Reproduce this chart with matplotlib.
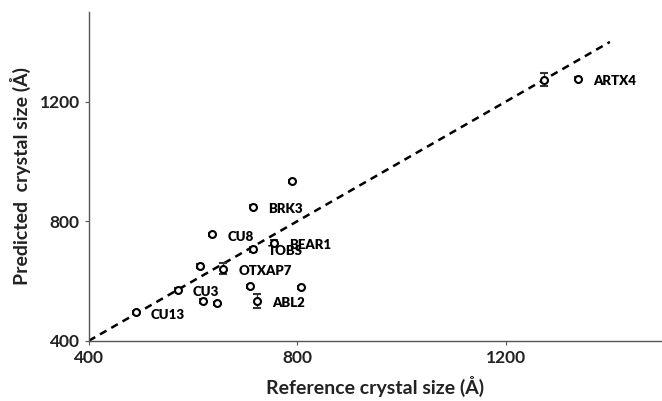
import matplotlib
matplotlib.use("Agg")
import matplotlib.pyplot as plt

# data
ref_size = [1338, 1274, 791, 715, 637, 755, 715, 613, 658, 709, 807, 571, 619, 647, 722, 490]
pred_size = [1276, 1274, 934, 849, 756, 729, 706, 651, 642, 583, 579, 571, 533, 526, 533, 495]
pred_err = [5, 22, 5, 5, 5, 8, 8, 6, 18, 5, 5, 5, 6, 5, 24, 5]
labels = ["ARTX4", "", "", "BRK3", "CU8", "BEAR1", "TOBS", "", "OTXAP7", "", "", "CU3", "", "", "ABL2", "CU13"]
line_x = [400, 1400]
line_y = [400, 1400]

plt.rcParams['font.family'] = ['Lato', 'DejaVu Sans']
fig = plt.figure(figsize=(6.62, 4.01), dpi=100)
ax = fig.add_axes([0.134, 0.150, 0.866, 0.820])

ax.plot(line_x, line_y, ls=(0, (3, 2.2)), color='black', lw=1.8, zorder=1)
ax.errorbar(ref_size, pred_size, yerr=pred_err, fmt='o', ms=5, mfc='white', mec='black',
            mew=1.5, ecolor='#333333', elinewidth=0.9, capsize=3, capthick=0.9, zorder=3)

for x, y, t in zip(ref_size, pred_size, labels):
    if t:
        ax.annotate(t, (x, y), xytext=(11, -1.5), textcoords='offset points', fontsize=9.5,
                    fontweight='heavy', va='center', ha='left', color='black')

ax.set_xlim(400, 1500)
ax.set_ylim(400, 1500)
ax.set_xticks([400, 800, 1200])
ax.set_yticks([400, 800, 1200])
ax.spines['top'].set_visible(False)
ax.spines['right'].set_visible(False)
for s in ['left', 'bottom']:
    ax.spines[s].set_color('#555555')
    ax.spines[s].set_linewidth(1.0)
ax.tick_params(axis='both', labelsize=12.5, length=3, color='#555555', labelcolor='#222222')
for lab in ax.get_xticklabels() + ax.get_yticklabels():
    lab.set_fontweight('bold')
ax.set_xlabel('Reference crystal size (Å)', fontsize=14, fontweight='bold', labelpad=7, color='#222222')
ax.set_ylabel('Predicted  crystal size (Å)', fontsize=14, fontweight='bold', labelpad=6, color='#222222')

fig.savefig('out.png', dpi=100)
